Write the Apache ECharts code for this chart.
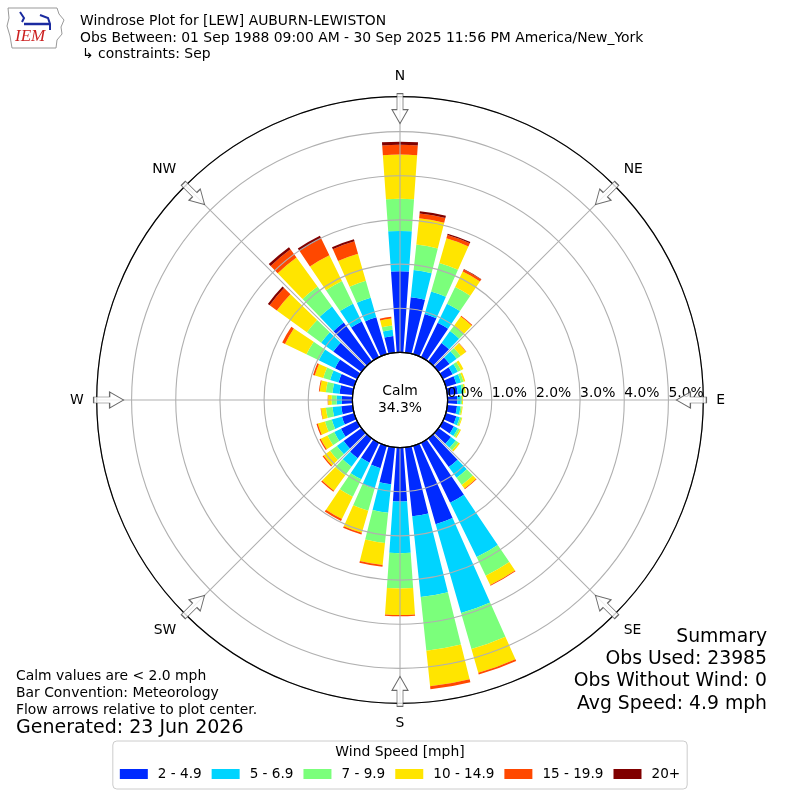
<!DOCTYPE html>
<html>
<head>
<meta charset="utf-8">
<script src="https://cdn.jsdelivr.net/npm/echarts/dist/echarts.min.js"></script>
<style>html,body{margin:0;padding:0;background:#fff;}#c{width:800px;height:800px;}</style>
</head>
<body>
<div id="c"></div>
<script>
// ---- data (percent of observations) ----
const directions = ['0','10','20','30','40','50','60','70','80','90','100','110','120','130','140','150','160','170',
                    '180','190','200','210','220','230','240','250','260','270','280','290','300','310','320','330','340','350'];
const dirLabels = ['N','NE','E','SE','S','SW','W','NW'];
const speedBins = ['2 - 4.9','5 - 6.9','7 - 9.9','10 - 14.9','15 - 19.9','20+'];
const binColors = ['#002aff','#00d4ff','#7bff7b','#ffe500','#ff4800','#800000'];
const spd2to5   = [1.84,1.26,0.95,0.87,0.52,0.31,0.25,0.25,0.24,0.22,0.22,0.25,0.28,0.35,0.80,1.51,1.85,1.57,1.22,0.84,0.53,0.50,0.55,0.50,0.41,0.29,0.26,0.24,0.30,0.37,0.56,0.79,1.09,0.90,0.87,0.38];
const spd5to7   = [0.91,0.62,0.53,0.48,0.33,0.20,0.13,0.11,0.10,0.08,0.08,0.08,0.10,0.13,0.30,1.37,2.09,1.84,1.17,0.65,0.48,0.42,0.24,0.19,0.17,0.24,0.20,0.12,0.16,0.20,0.41,0.34,0.45,0.45,0.46,0.14];
const spd7to10  = [0.73,0.58,0.67,0.42,0.16,0.11,0.08,0.06,0.05,0.03,0.03,0.04,0.05,0.08,0.20,0.47,0.85,1.22,0.80,0.69,0.52,0.44,0.24,0.19,0.17,0.16,0.15,0.11,0.15,0.16,0.31,0.40,0.56,0.57,0.40,0.10];
const spd10to15 = [1.00,0.60,0.58,0.39,0.25,0.15,0.06,0.04,0.03,0.02,0.02,0.02,0.03,0.04,0.10,0.23,0.56,0.81,0.60,0.50,0.52,0.56,0.43,0.18,0.17,0.17,0.11,0.08,0.14,0.20,0.54,0.84,0.81,0.65,0.64,0.16];
const spd15to20 = [0.22,0.11,0.08,0.05,0.02,0.01,0,0,0,0,0,0,0,0,0.02,0.02,0.04,0.07,0.03,0.04,0.04,0.05,0.03,0.03,0.03,0.03,0.01,0.01,0.02,0.04,0.07,0.20,0.23,0.42,0.29,0.04];
const spd20plus = [0.07,0.05,0.03,0.01,0,0,0,0,0,0,0,0,0,0,0,0,0,0,0,0,0,0,0,0,0,0,0,0,0,0,0,0.05,0.06,0.07,0.05,0];
const calmPct = 34.3;
const arrowAngles = [0,45,90,135,180,225,270,315];
const arrowRadius = 5.52;
const radialMax = 5.79;
const titleLines = ['Windrose Plot for [LEW] AUBURN-LEWISTON',
                    'Obs Between: 01 Sep 1988 09:00 AM - 30 Sep 2025 11:56 PM America/New_York',
                    '\u21b3 constraints: Sep'];
const summaryLines = ['Summary','Obs Used: 23985','Obs Without Wind: 0','Avg Speed: 4.9 mph'];
const noteLines = ['Calm values are < 2.0 mph','Bar Convention: Meteorology','Flow arrows relative to plot center.'];
const generatedText = 'Generated: 23 Jun 2026';
const legendTitle = 'Wind Speed [mph]';

const seriesData = [spd2to5, spd5to7, spd7to10, spd10to15, spd15to20, spd20plus];
const FONT = 'DejaVu Sans';
const CX = 400, CY = 400, R0 = 47.6, R1 = 303.3;

const chart = echarts.init(document.getElementById('c'), null, {renderer: 'canvas', width: 800, height: 800});

const barSeries = speedBins.map((name, i) => ({
  name: name,
  type: 'bar',
  coordinateSystem: 'polar',
  polarIndex: 0,
  stack: 'wind',
  data: seriesData[i],
  barCategoryGap: '20%',
  itemStyle: {color: binColors[i]},
  emphasis: {disabled: true},
  z: 2
}));

const arrowPath = 'path://M5,0 L11,0 L11,16 L16,16 L8,30 L0,16 L5,16 Z';

const graphics = [];
// logo (approximation)
graphics.push({type: 'polyline', shape: {points: [[8,8],[57,8],[59,14],[64,20],[61,27],[62,34],[57,40],[56,48],[12,48],[10,36],[7,26],[9,18],[8,8]]},
  style: {stroke: '#999', fill: 'none', lineWidth: 1}, z: 20});
graphics.push({type: 'polyline', shape: {points: [[20,12],[24,18],[22,22]]}, style: {stroke: '#1a2aa0', fill: 'none', lineWidth: 2}, z: 20});
graphics.push({type: 'line', shape: {x1: 24, y1: 24, x2: 50, y2: 24}, style: {stroke: '#1a2aa0', lineWidth: 2.5}, z: 20});
graphics.push({type: 'polyline', shape: {points: [[40,15],[48,18],[50,24],[50,30]]}, style: {stroke: '#1a2aa0', fill: 'none', lineWidth: 2}, z: 20});
graphics.push({type: 'text', style: {text: 'IEM', x: 15, y: 37, font: 'italic 17px "Liberation Serif"', fill: '#cc2020', verticalAlign: 'middle'}, z: 20});
// titles
titleLines.forEach((t, i) => {
  graphics.push({type: 'text', style: {text: t, x: i === 2 ? 82 : 80, y: [21, 38, 54.5][i], font: '13.9px "' + FONT + '"', fill: '#000', verticalAlign: 'middle'}, z: 20});
});
// calm text
graphics.push({type: 'text', style: {text: 'Calm', x: CX, y: 391, font: '13.9px "' + FONT + '"', fill: '#000', align: 'center', verticalAlign: 'middle'}, z: 20});
graphics.push({type: 'text', style: {text: calmPct.toFixed(1) + '%', x: CX, y: 408, font: '13.9px "' + FONT + '"', fill: '#000', align: 'center', verticalAlign: 'middle'}, z: 20});
// summary
summaryLines.forEach((t, i) => {
  graphics.push({type: 'text', style: {text: t, x: 767, y: 637 + i * 22.3, font: '18.8px "' + FONT + '"', fill: '#000', align: 'right', verticalAlign: 'middle'}, z: 20});
});
// notes
noteLines.forEach((t, i) => {
  graphics.push({type: 'text', style: {text: t, x: 16, y: 676.5 + i * 17, font: '13.9px "' + FONT + '"', fill: '#000', verticalAlign: 'middle'}, z: 20});
});
graphics.push({type: 'text', style: {text: generatedText, x: 16, y: 728, font: '19px "' + FONT + '"', fill: '#000', verticalAlign: 'middle'}, z: 20});
// legend title
graphics.push({type: 'text', style: {text: legendTitle, x: 400, y: 752, font: '13.9px "' + FONT + '"', fill: '#000', align: 'center', verticalAlign: 'middle'}, z: 30});

const option = {
  backgroundColor: '#fff',
  animation: false,
  textStyle: {fontFamily: FONT},
  polar: [
    {center: [CX, CY], radius: [R0, R1]},   // bars
    {center: [CX, CY], radius: [R0, R1]},   // grid, direction labels, arrows
    {center: [CX, CY], radius: [R0, R1]},   // radial % labels along E
    {center: [CX, CY], radius: [0, R0]}     // calm circle
  ],
  angleAxis: [
    {polarIndex: 0, type: 'category', data: directions, startAngle: 95, clockwise: true, show: false},
    {polarIndex: 1, type: 'value', min: 0, max: 360, interval: 45, startAngle: 90, clockwise: true, z: 5,
      axisLine: {show: true, lineStyle: {color: '#000', width: 1.2}},
      axisTick: {show: false},
      axisLabel: {show: true, margin: 13, color: '#000', fontSize: 13.9, fontFamily: FONT,
        formatter: v => (v >= 360 ? '' : dirLabels[Math.round(v / 45)])},
      splitLine: {show: true, lineStyle: {color: '#b0b0b0', width: 1.1}}},
    {polarIndex: 2, type: 'value', min: 0, max: 360, startAngle: 0, show: false},
    {polarIndex: 3, type: 'value', min: 0, max: 360, startAngle: 90, z: 6,
      axisLine: {show: true, lineStyle: {color: '#000', width: 1.2}},
      axisTick: {show: false}, axisLabel: {show: false}, splitLine: {show: false}}
  ],
  radiusAxis: [
    {polarIndex: 0, type: 'value', min: 0, max: radialMax, show: false},
    {polarIndex: 1, type: 'value', min: 0, max: radialMax, interval: 1, z: 5,
      axisLine: {show: false}, axisTick: {show: false}, axisLabel: {show: false},
      splitLine: {show: true, lineStyle: {color: '#b0b0b0', width: 1.1}}},
    {polarIndex: 2, type: 'value', min: 0, max: radialMax, interval: 1, z: 8,
      axisLine: {show: false}, axisTick: {show: false}, splitLine: {show: false},
      axisLabel: {show: true, margin: 0, align: 'left', color: '#000', fontSize: 13.9, fontFamily: FONT,
        showMinLabel: true,
        formatter: v => (Math.abs(v - Math.round(v)) > 1e-6 ? '' : v.toFixed(1) + '%')}},
    {polarIndex: 3, type: 'value', min: 0, max: 1, show: false}
  ],
  legend: {
    data: speedBins,
    left: 'center',
    top: 741,
    orient: 'horizontal',
    icon: 'rect',
    itemWidth: 28,
    itemHeight: 10,
    itemGap: 10,
    padding: [26, 7, 8, 7],
    borderColor: '#cccccc',
    borderWidth: 1,
    borderRadius: 4,
    backgroundColor: '#fff',
    selectedMode: false,
    textStyle: {color: '#000', fontSize: 13.6, fontFamily: FONT, padding: [0, 0, 0, 5]}
  },
  series: barSeries.concat([{
    type: 'scatter',
    coordinateSystem: 'polar',
    polarIndex: 1,
    symbol: arrowPath,
    symbolSize: [16, 30],
    silent: true,
    z: 10,
    itemStyle: {color: '#fff', borderColor: '#444', borderWidth: 1},
    data: arrowAngles.map(a => ({value: [arrowRadius, a], symbolRotate: -a}))
  }]),
  graphic: graphics
};
chart.setOption(option);
</script>
</body>
</html>
